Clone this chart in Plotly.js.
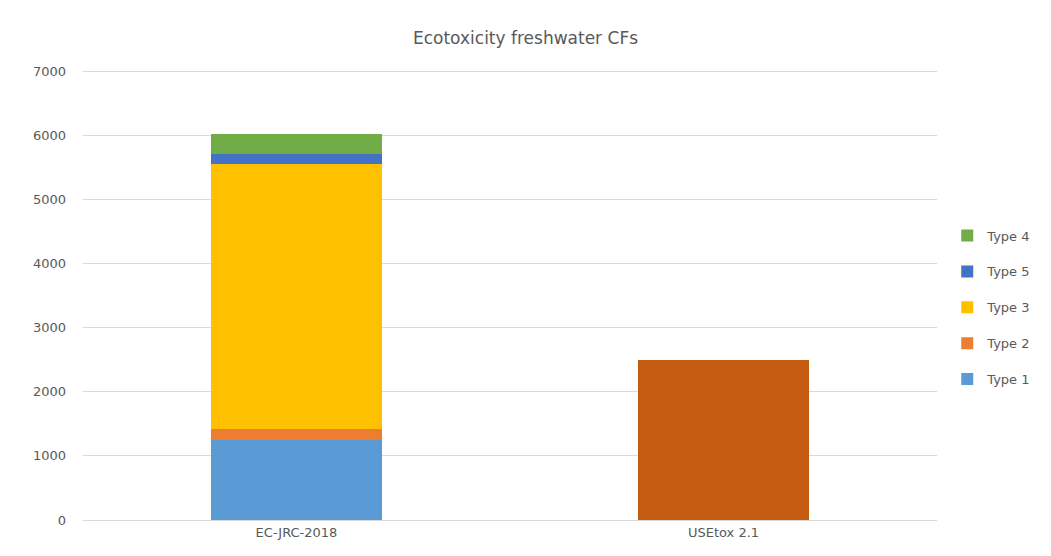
<!DOCTYPE html>
<html>
<head>
<meta charset="utf-8">
<script src="https://cdn.plot.ly/plotly-3.0.1.min.js"></script>
<style>html,body{margin:0;padding:0;background:#fff;}#chart{width:1051px;height:556px;}</style>
</head>
<body>
<div id="chart"></div>
<script>
const categories = ["EC-JRC-2018", "USEtox 2.1"];
const seriesNames = ["Type 1", "Type 2", "Type 3", "Type 5", "Type 4"];
const type1 = [1250, 0];
const type2 = [175, 2500];
const type3 = [4120, 0];
const type5 = [170, 0];
const type4 = [300, 0];
const yTicks = [0, 1000, 2000, 3000, 4000, 5000, 6000, 7000];

const seriesValues = [type1, type2, type3, type5, type4];
const seriesColors = ["#5B9BD5", ["#ED7D31", "#C55A11"], "#FFC000", "#4472C4", "#70AD47"];

const traces = seriesNames.map((name, i) => ({
  type: "bar",
  name: name,
  x: categories,
  y: seriesValues[i],
  legendgroup: name,
  legendrank: 1000 - i,
  marker: { color: seriesColors[i], line: { width: 0 } },
  hoverinfo: "x+y+name"
}));

const layout = {
  width: 1051,
  height: 556,
  barmode: "stack",
  bargap: 0.6,
  paper_bgcolor: "#ffffff",
  plot_bgcolor: "#ffffff",
  font: { family: "DejaVu Sans, Verdana, sans-serif", color: "#595959", size: 13 },
  title: {
    text: "Ecotoxicity freshwater CFs",
    font: { size: 17, color: "#595959" },
    x: 0.5, xanchor: "center", y: 0.932, yanchor: "middle"
  },
  margin: { l: 83, r: 114, t: 68, b: 36 },
  xaxis: {
    showgrid: false,
    showline: true,
    linecolor: "#D9D9D9",
    linewidth: 1,
    ticks: "",
    tickfont: { size: 13, color: "#595959" },
    fixedrange: true
  },
  yaxis: {
    range: [0, 7050],
    tickvals: yTicks,
    ticktext: yTicks.map(String),
    showgrid: true,
    gridcolor: "#D9D9D9",
    gridwidth: 1,
    zeroline: false,
    showline: false,
    ticks: "",
    ticklabelstandoff: 16,
    tickfont: { size: 13, color: "#595959" },
    fixedrange: true
  },
  legend: {
    traceorder: "grouped",
    tracegroupgap: 16,
    x: 1.012,
    xanchor: "left",
    y: 0.47,
    yanchor: "middle",
    font: { size: 13, color: "#595959" },
    bgcolor: "rgba(0,0,0,0)"
  },
  showlegend: true
};

Plotly.newPlot("chart", traces, layout, { displayModeBar: false, staticPlot: true });
</script>
</body>
</html>
